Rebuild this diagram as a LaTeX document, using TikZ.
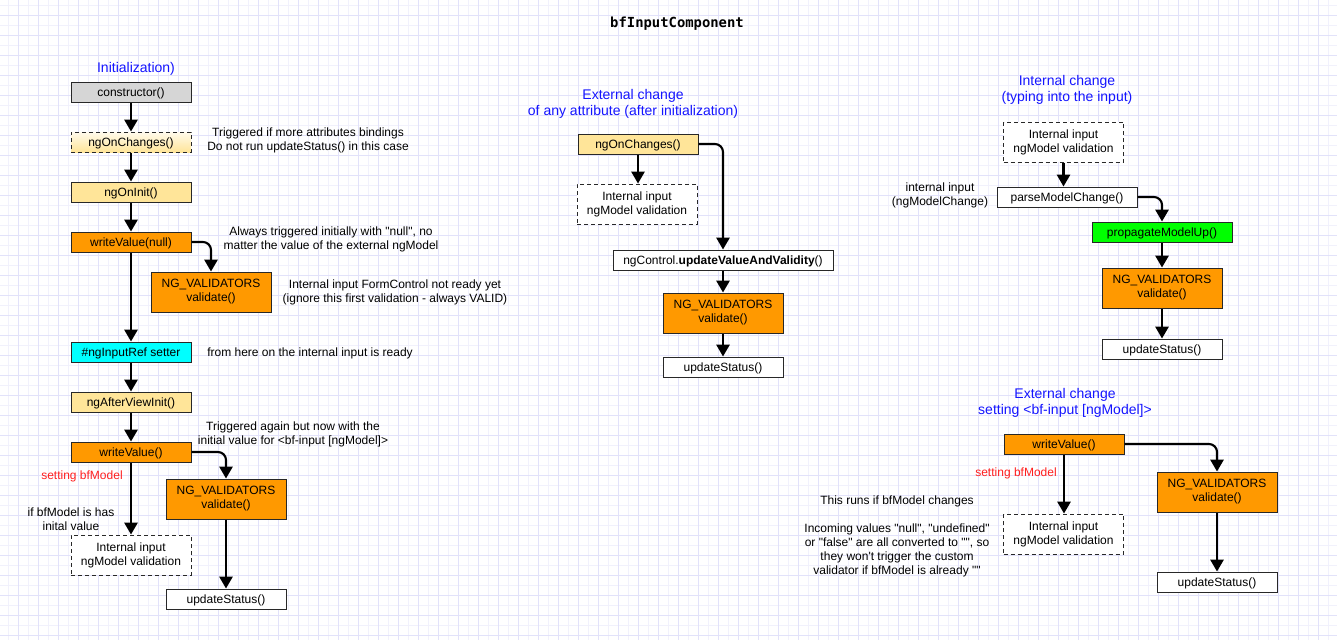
\documentclass[tikz,border=0pt]{standalone}
\usepackage{fontspec}
\setmainfont{Liberation Sans}[Ligatures=TeXOff]
\newfontfamily\titlefont{DejaVu Sans Mono}
\usetikzlibrary{arrows.meta}
\definecolor{gridmin}{RGB}{241,241,252}
\definecolor{gridmaj}{RGB}{226,226,250}
\definecolor{grayc}{RGB}{214,214,214}
\definecolor{yellowc}{RGB}{255,229,153}
\definecolor{yellowt}{RGB}{255,250,236}
\definecolor{orangec}{RGB}{255,153,0}
\definecolor{cyanc}{RGB}{0,255,255}
\definecolor{greenc}{RGB}{0,255,0}
\definecolor{headblue}{RGB}{20,20,255}
\definecolor{notered}{RGB}{255,30,30}
\definecolor{edgec}{RGB}{40,40,40}
\tikzset{
  box/.style={draw=edgec, line width=0.75pt, inner sep=0pt, align=center,
    font=\fontsize{9}{10.5}\selectfont, minimum width=90pt, minimum height=15pt,
    text height=8.2pt, text depth=2pt},
  tall/.style={minimum height=30pt, text height=, text depth=},
  dashbox/.style={dash pattern=on 3pt off 2.25pt},
  note/.style={align=center, inner sep=0pt, font=\fontsize{9}{10.5}\selectfont, yshift=-0.75pt},
  head/.style={align=center, inner sep=0pt, text=headblue, font=\fontsize{10.5}{12}\selectfont, yshift=-1.5pt},
  flow/.style={line width=1.6pt, rounded corners=6pt,
    -{Triangle[width=10pt,length=9pt]}},
}
\begin{document}
\begin{tikzpicture}[x=0.75pt,y=-0.75pt]
\useasboundingbox (0,0) rectangle (1337,640);
\fill[white] (0,0) rectangle (1337,640);
% grid
\foreach \gx in {8,28,...,1337} \draw[gridmin, line width=0.75pt] (\gx,0) -- (\gx,640);
\foreach \gy in {5,25,...,640} \draw[gridmin, line width=0.75pt] (0,\gy) -- (1337,\gy);
\foreach \gx in {18,38,...,1337} \draw[gridmaj, line width=0.75pt] (\gx,0) -- (\gx,640);
\foreach \gy in {15,35,...,640} \draw[gridmaj, line width=0.75pt] (0,\gy) -- (1337,\gy);

% title
\node[inner sep=0pt] (title) at (677,23.5) {\titlefont\bfseries\fontsize{10.4}{12}\selectfont bfInputComponent};

% ---------- Initialization ----------
\node[head] (h1) at (136,67) {Initialization)};
\node[box, fill=grayc] (cons) at (131,92) {constructor()};
\node[box, dashbox, top color=yellowt, bottom color=yellowc] (onch1) at (131,142) {ngOnChanges()};
\node[box, fill=yellowc] (oninit) at (131,192) {ngOnInit()};
\node[box, fill=orangec] (wvnull) at (131,242) {writeValue(null)};
\node[box, tall, fill=orangec] (ngv1) at (211,292) {NG\_VALIDATORS\\validate()};
\node[box, fill=cyanc] (inref) at (131,352) {\#ngInputRef setter};
\node[box, fill=yellowc] (avi) at (131,402) {ngAfterViewInit()};
\node[box, fill=orangec] (wv1) at (131,452) {writeValue()};
\node[box, tall, fill=orangec] (ngv2) at (226,499) {NG\_VALIDATORS\\validate()};
\node[box, tall, dashbox, fill=white] (int1) at (131,555) {Internal input\\ngModel validation};
\node[box, fill=white] (us1) at (226,599) {updateStatus()};

\node[note] (a1) at (308,139) {Triggered if more attributes bindings\\Do not run updateStatus() in this case};
\node[note] (a2) at (331,238) {Always triggered initially with "null", no\\matter the value of the external ngModel};
\node[note] (a3) at (395,291) {Internal input FormControl not ready yet\\(ignore this first validation - always VALID)};
\node[note] (a4) at (310,352) {from here on the internal input is ready};
\node[note] (a5) at (293,433) {Triggered again but now with the\\initial value for <bf-input [ngModel]>};
\node[note, text=notered] (a6) at (82,475) {setting bfModel};
\node[note] (a7) at (71,518) {if bfModel is has\\inital value};

\draw[flow] (cons) -- (onch1);
\draw[flow] (onch1) -- (oninit);
\draw[flow] (oninit) -- (wvnull);
\draw[flow] (wvnull.east) -| (ngv1.north);
\draw[flow] (wvnull) -- (inref);
\draw[flow] (inref) -- (avi);
\draw[flow] (avi) -- (wv1);
\draw[flow] (wv1.east) -| (ngv2.north);
\draw[flow] (wv1) -- (int1);
\draw[flow] (ngv2) -- (us1);

% ---------- External change of any attribute ----------
\node[head] (h2) at (633,102) {External change\\of any attribute (after initialization)};
\node[box, fill=yellowc] (onch2) at (638,144) {ngOnChanges()};
\node[box, tall, dashbox, fill=white] (int2) at (637,204) {Internal input\\ngModel validation};
\node[box, fill=white, minimum width=165pt] (uvv) at (723,260) {ngControl.\textbf{updateValueAndValidity}()};
\node[box, tall, fill=orangec] (ngv3) at (723,313) {NG\_VALIDATORS\\validate()};
\node[box, fill=white] (us2) at (723,367) {updateStatus()};

\draw[flow] (onch2.south) -- (onch2.south |- int2.north);
\draw[flow] (onch2.east) -| (uvv.north);
\draw[flow] (uvv) -- (ngv3);
\draw[flow] (ngv3) -- (us2);

% ---------- Internal change ----------
\node[head] (h3) at (1067,88) {Internal change\\(typing into the input)};
\node[box, tall, dashbox, fill=white] (int3) at (1063.5,142) {Internal input\\ngModel validation};
\node[box, fill=white, minimum width=105pt] (pmc) at (1067,197) {parseModelChange()};
\node[note] (a8) at (940,194) {internal input\\(ngModelChange)};
\node[box, fill=greenc, minimum width=105pt] (pmu) at (1162,232) {propagateModelUp()};
\node[box, tall, fill=orangec] (ngv4) at (1162,288) {NG\_VALIDATORS\\validate()};
\node[box, fill=white] (us3) at (1162,349) {updateStatus()};

\draw[flow] (int3.south) -- (int3.south |- pmc.north);
\draw[flow] (pmc.east) -| (pmu.north);
\draw[flow] (pmu) -- (ngv4);
\draw[flow] (ngv4) -- (us3);

% ---------- External change setting ngModel ----------
\node[head] (h4) at (1065,401) {External change\\setting <bf-input [ngModel]>};
\node[box, fill=orangec] (wv2) at (1064,444) {writeValue()};
\node[note, text=notered] (a9) at (1016,472) {setting bfModel};
\node[box, tall, fill=orangec] (ngv5) at (1217,492) {NG\_VALIDATORS\\validate()};
\node[box, tall, dashbox, fill=white] (int4) at (1063.5,534) {Internal input\\ngModel validation};
\node[box, fill=white] (us4) at (1217,582) {updateStatus()};
\node[note] (a10) at (897,500) {This runs if bfModel changes};
\node[note] (a11) at (897,549.5) {Incoming values "null", "undefined"\\or "false" are all converted to "", so\\they won't trigger the custom\\validator if bfModel is already ""};

\draw[flow] (wv2.south) -- (wv2.south |- int4.north);
\draw[flow] (wv2.east) -| (ngv5.north);
\draw[flow] (ngv5) -- (us4);
\end{tikzpicture}
\end{document}
